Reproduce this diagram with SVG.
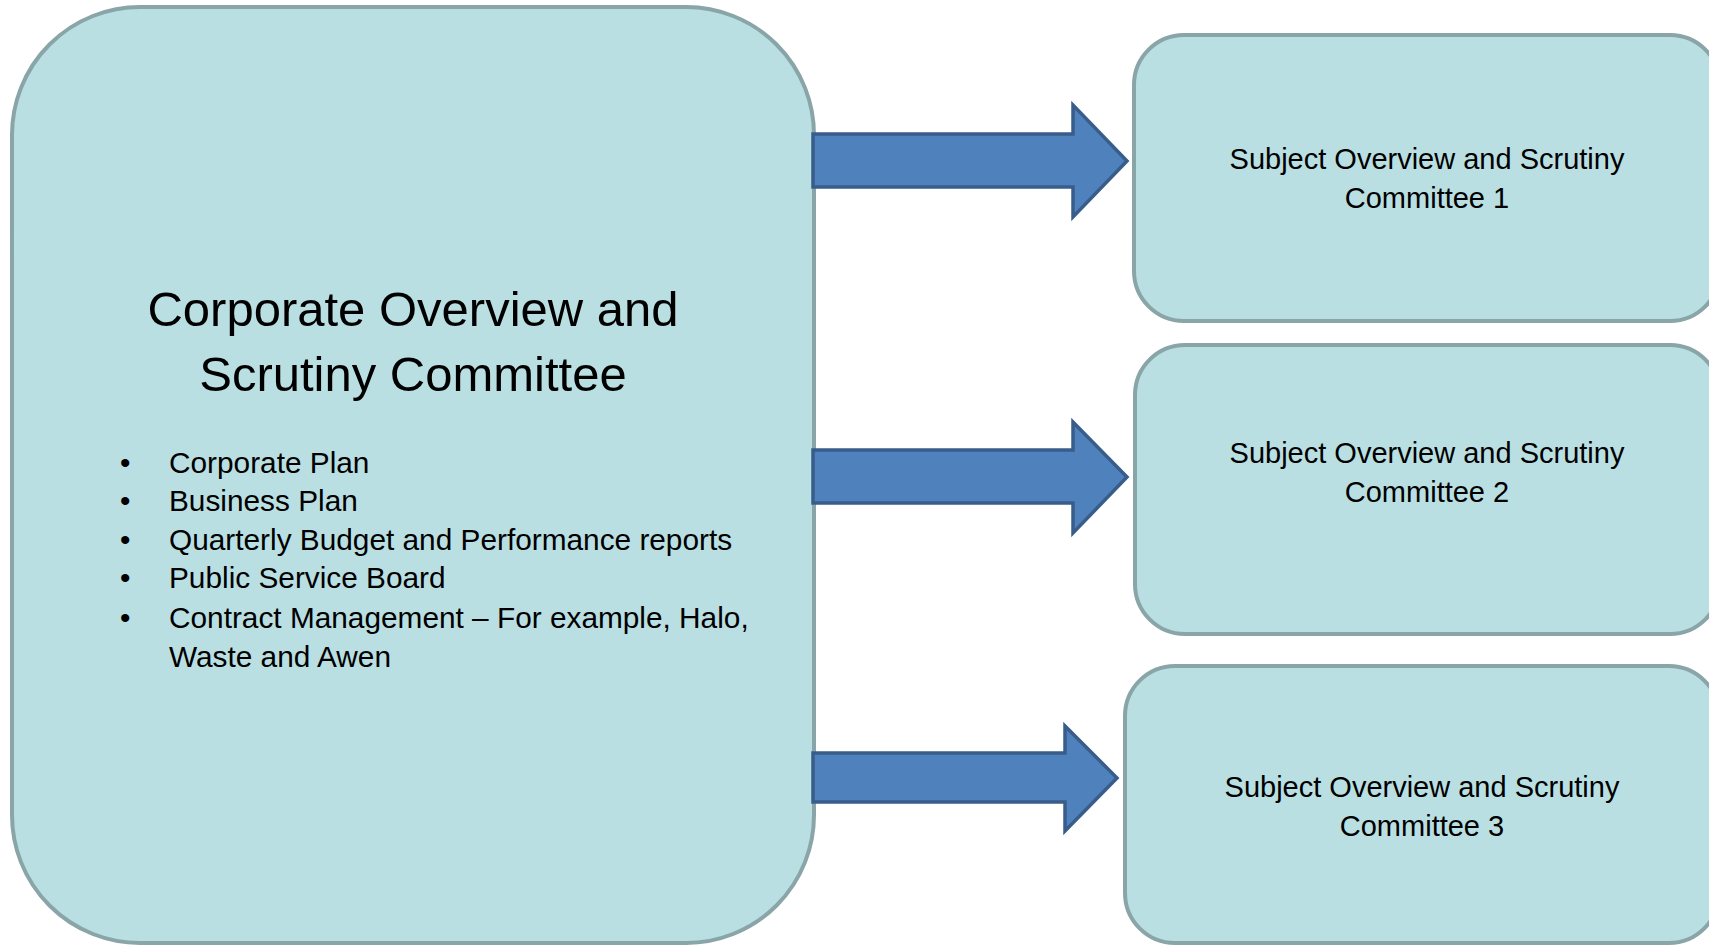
<svg xmlns="http://www.w3.org/2000/svg" width="1709" height="945" viewBox="0 0 1709 945">
<style>
.box{fill:#b9dfe3;stroke:#89a5a8;stroke-width:4}
.arrow{fill:#4f81bd;stroke:#385d8a;stroke-width:3.5;stroke-linejoin:miter}
text{font-family:"Liberation Sans",Arial,sans-serif;fill:#000}
.t{font-size:29px;text-anchor:middle}
.title{font-size:49px;text-anchor:middle}
.li{font-size:29.8px}
</style>
<rect width="1709" height="945" fill="#fff"/>
<g id="corporate">
<rect class="box" x="12" y="7" width="802" height="936" rx="128" ry="128"/>
<text class="title" x="413" y="326">Corporate Overview and</text>
<text class="title" x="413" y="391">Scrutiny Committee</text>
<g class="li">
<text x="120" y="473">•</text><text x="169" y="473">Corporate Plan</text>
<text x="120" y="511">•</text><text x="169" y="511">Business Plan</text>
<text x="120" y="550">•</text><text x="169" y="550">Quarterly Budget and Performance reports</text>
<text x="120" y="588">•</text><text x="169" y="588">Public Service Board</text>
<text x="120" y="628">•</text><text x="169" y="628">Contract Management – For example, Halo,</text>
<text x="169" y="667">Waste and Awen</text>
</g>
</g>
<g id="subject1">
<rect class="box" x="1134" y="35" width="586" height="286" rx="50" ry="50"/>
<text class="t" x="1427" y="169">Subject Overview and Scrutiny</text>
<text class="t" x="1427" y="208">Committee 1</text>
</g>
<g id="subject2">
<rect class="box" x="1135" y="345" width="585" height="289" rx="50" ry="50"/>
<text class="t" x="1427" y="463">Subject Overview and Scrutiny</text>
<text class="t" x="1427" y="502">Committee 2</text>
</g>
<g id="subject3">
<rect class="box" x="1125" y="666" width="594" height="277" rx="50" ry="50"/>
<text class="t" x="1422" y="797">Subject Overview and Scrutiny</text>
<text class="t" x="1422" y="836">Committee 3</text>
</g>
<g id="connectors">
<polygon class="arrow" points="813,134 1073,134 1073,105 1127,161 1073,217 1073,187 813,187"/>
<polygon class="arrow" points="813,450 1073,450 1073,422 1127,477 1073,533 1073,503 813,503"/>
<polygon class="arrow" points="813,753 1065,753 1065,726 1117,778 1065,831 1065,802 813,802"/>
</g>
</svg>
